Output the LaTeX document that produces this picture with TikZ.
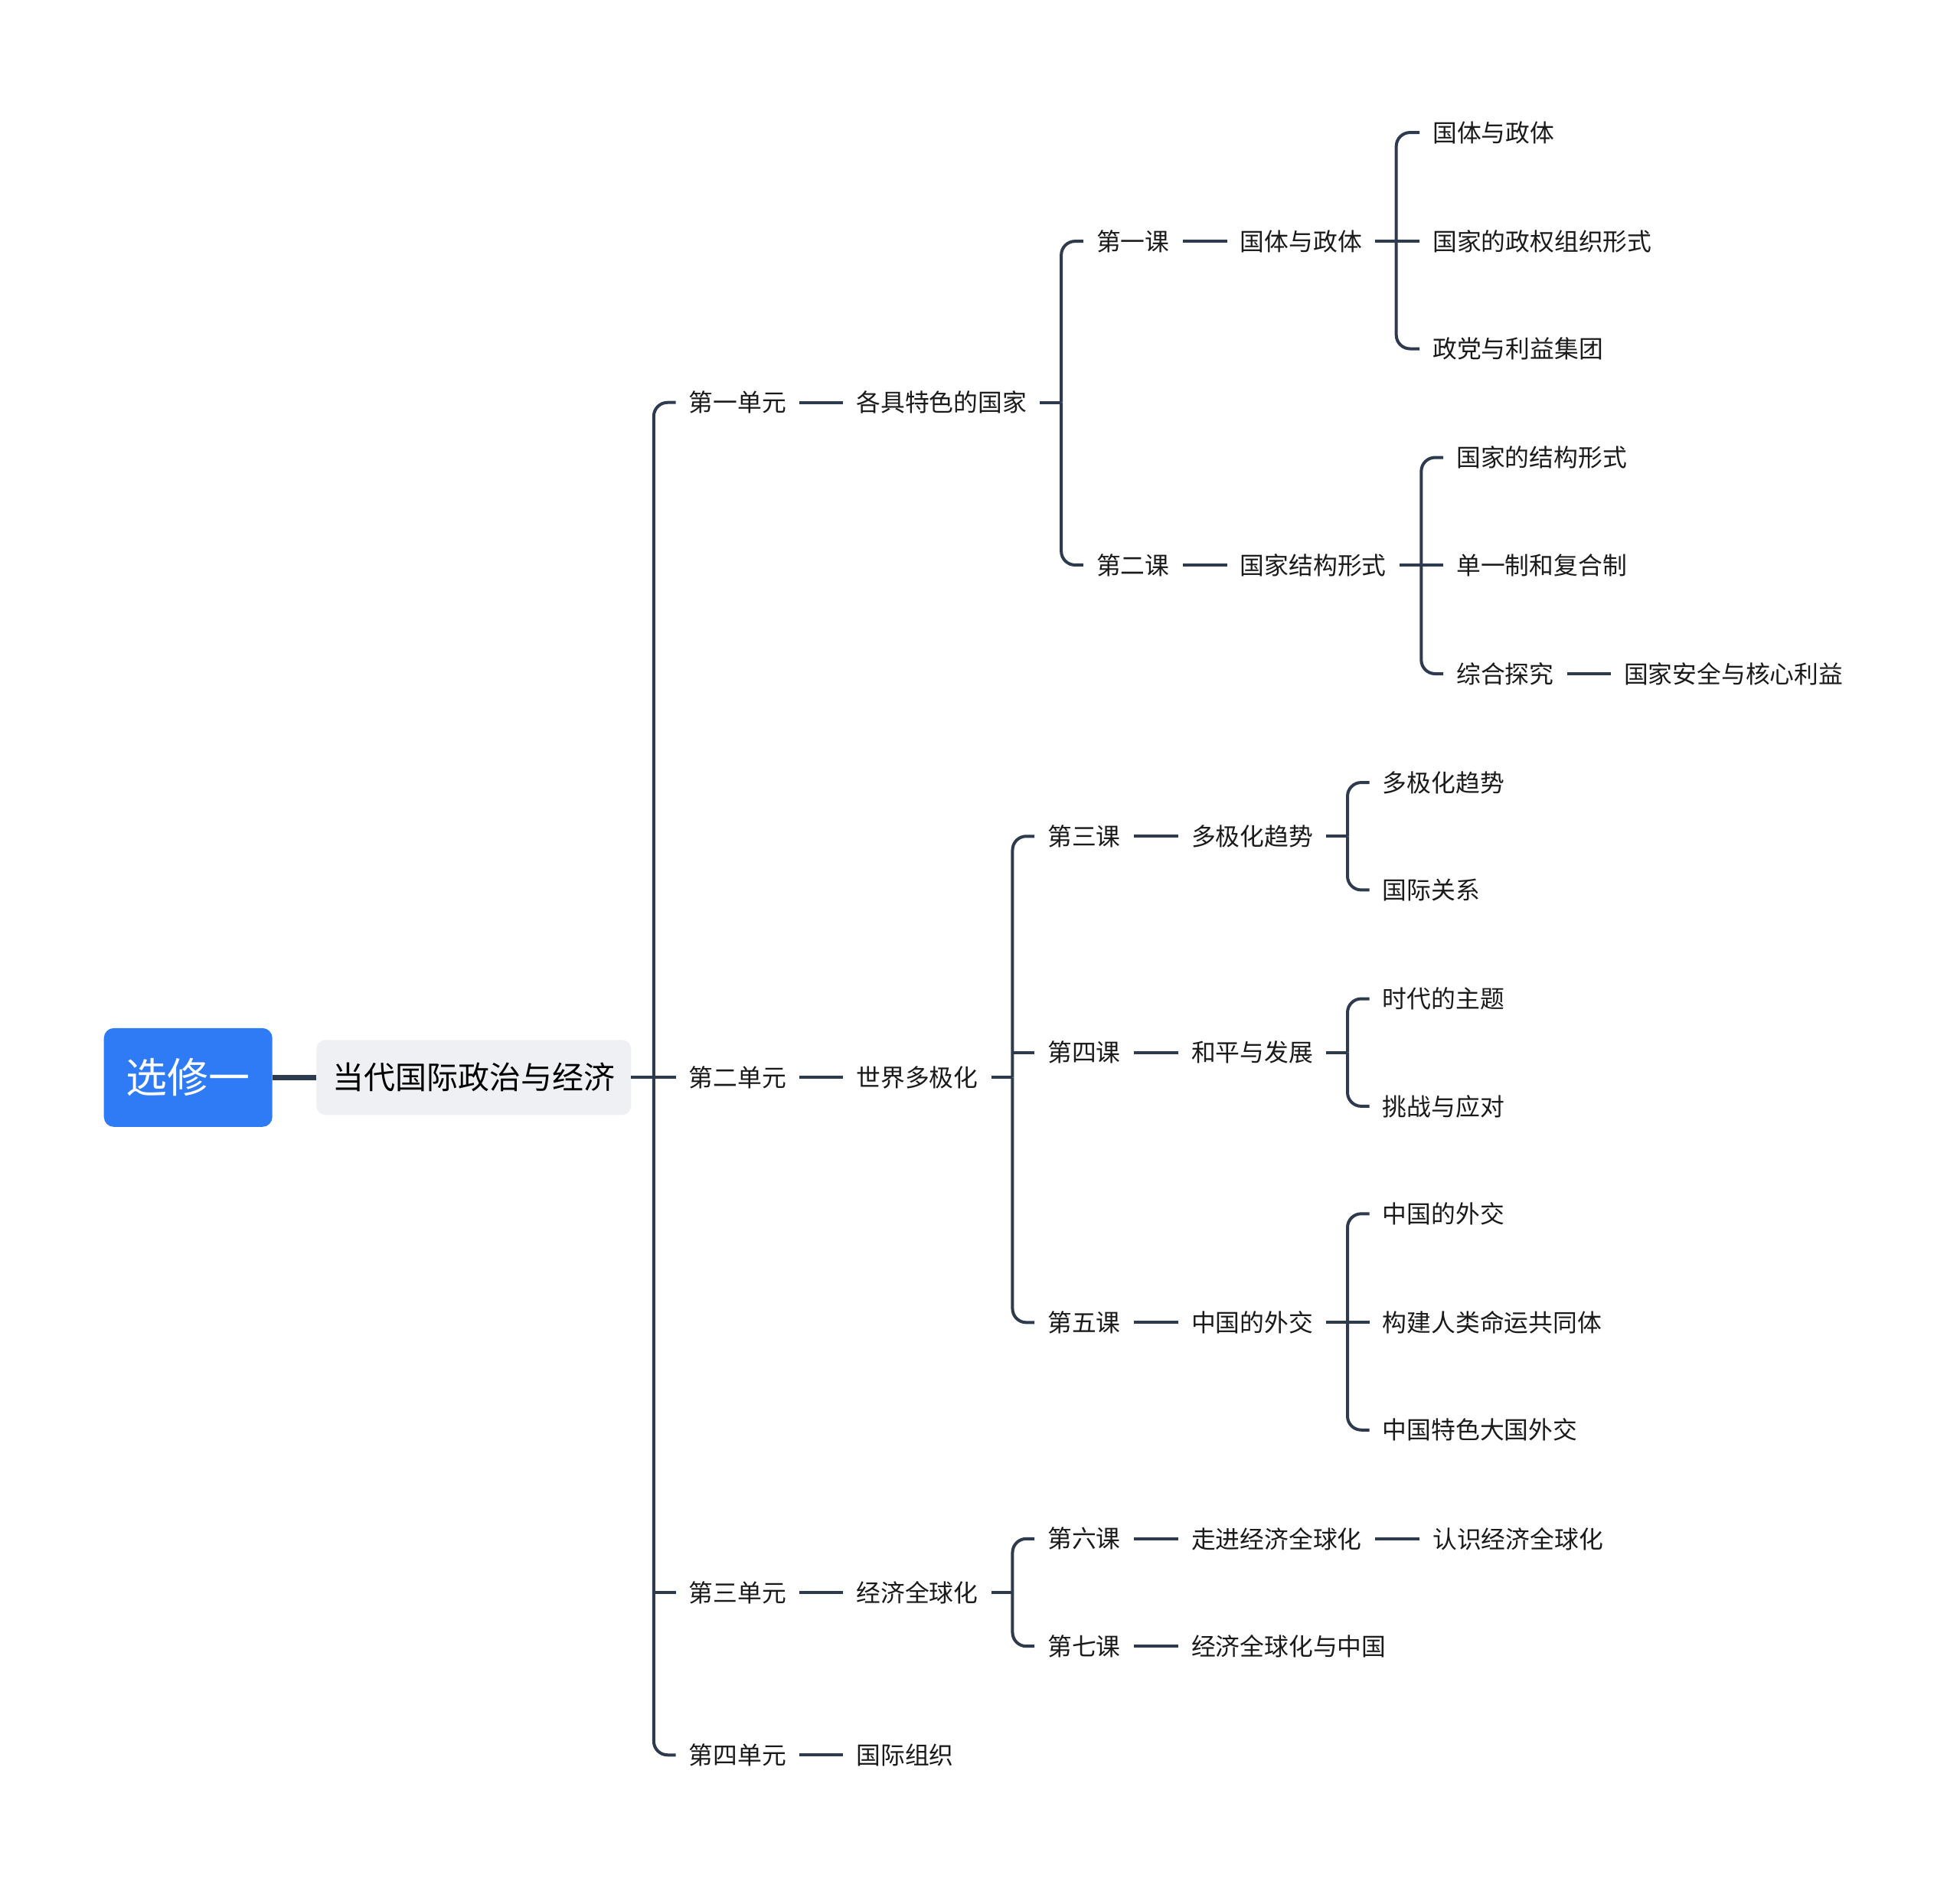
\documentclass[tikz,border=0pt]{standalone}
\usepackage{fontspec}
\setmainfont{Noto Sans CJK SC}
\definecolor{lineC}{HTML}{2E3A4D}
\definecolor{rootC}{HTML}{2F7BF6}
\definecolor{boxC}{HTML}{EEF0F3}
\definecolor{textC}{HTML}{1A1A1A}
\begin{document}
\begin{tikzpicture}[x=1.6327pt,y=-1.6327pt,
  t/.style={anchor=west,xshift=-17pt,inner xsep=17pt,inner ysep=0pt,text=textC,font=\fontsize{31.8}{34}\selectfont},
  con/.style={draw=lineC,line width=4pt},
  spine/.style={draw=lineC,line width=4pt,rounded corners=18pt},
  rootbox/.style={fill=rootC,rounded corners=13pt,text=white,minimum width=220pt,minimum height=129pt,font=\fontsize{54}{58}\selectfont},
  mainbox/.style={fill=boxC,rounded corners=12pt,text=black,inner xsep=21pt,minimum height=98pt,font=\fontsize{41}{44}\selectfont}]
\useasboundingbox (0,0) rectangle (1568,1510);
% root and main
\node[rootbox] (root) at (150.5,862) {选修一};
\node[mainbox] (main) at (379,862) {当代国际政治与经济};
\draw[draw=lineC,line width=6.5pt] (root.east) -- (main.west);
% units
\node[t] (u1) at (551,322) {第一单元};
\node[t] (u2) at (551,862) {第二单元};
\node[t] (u3) at (551,1274) {第三单元};
\node[t] (u4) at (551,1404) {第四单元};
\coordinate (s0) at (523,862);
\draw[con] (main.east) -- (s0);
\draw[spine] (u1.west) -| (s0);
\draw[spine] (u4.west) -| (s0);
\draw[con] (u2.west) -- (s0);
\draw[con] (u3.west) -- (u3.west -| s0);
% unit topics
\node[t] (t1) at (685,322) {各具特色的国家};
\node[t] (t2) at (685,862) {世界多极化};
\node[t] (t3) at (685,1274) {经济全球化};
\node[t] (t4) at (685,1404) {国际组织};
\draw[con] (u1.east) -- (t1.west);
\draw[con] (u2.east) -- (t2.west);
\draw[con] (u3.east) -- (t3.west);
\draw[con] (u4.east) -- (t4.west);
% lessons
\node[t] (l1) at (877,193) {第一课};
\node[t] (l2) at (877,452) {第二课};
\node[t] (l3) at (838,669) {第三课};
\node[t] (l4) at (838,842) {第四课};
\node[t] (l5) at (838,1058) {第五课};
\node[t] (l6) at (838,1231) {第六课};
\node[t] (l7) at (838,1317) {第七课};
\coordinate (s1) at (849,322);
\draw[con] (t1.east) -- (s1);
\draw[spine] (l1.west) -| (s1);
\draw[spine] (l2.west) -| (s1);
\coordinate (s2) at (810,862);
\draw[con] (t2.east) -- (s2);
\draw[spine] (l3.west) -| (s2);
\draw[spine] (l5.west) -| (s2);
\draw[con] (l4.west) -- (l4.west -| s2);
\coordinate (s3) at (810,1274);
\draw[con] (t3.east) -- (s3);
\draw[spine] (l6.west) -| (s3);
\draw[spine] (l7.west) -| (s3);
% lesson topics
\node[t] (k1) at (992,193) {国体与政体};
\node[t] (k2) at (992,452) {国家结构形式};
\node[t] (k3) at (953,669) {多极化趋势};
\node[t] (k4) at (953,842) {和平与发展};
\node[t] (k5) at (953,1058) {中国的外交};
\node[t] (k6) at (953,1231) {走进经济全球化};
\node[t] (k7) at (953,1317) {经济全球化与中国};
\draw[con] (l1.east) -- (k1.west);
\draw[con] (l2.east) -- (k2.west);
\draw[con] (l3.east) -- (k3.west);
\draw[con] (l4.east) -- (k4.west);
\draw[con] (l5.east) -- (k5.west);
\draw[con] (l6.east) -- (k6.west);
\draw[con] (l7.east) -- (k7.west);
% leaves of k1
\node[t] (a1) at (1146,106) {国体与政体};
\node[t] (a2) at (1146,193) {国家的政权组织形式};
\node[t] (a3) at (1146,279) {政党与利益集团};
\coordinate (sk1) at (1117,193);
\draw[con] (k1.east) -- (sk1);
\draw[spine] (a1.west) -| (sk1);
\draw[spine] (a3.west) -| (sk1);
\draw[con] (a2.west) -- (sk1);
% leaves of k2
\node[t] (b1) at (1165,366) {国家的结构形式};
\node[t] (b2) at (1165,452) {单一制和复合制};
\node[t] (b3) at (1165,539) {综合探究};
\node[t] (b4) at (1299,539) {国家安全与核心利益};
\coordinate (sk2) at (1137,452);
\draw[con] (k2.east) -- (sk2);
\draw[spine] (b1.west) -| (sk2);
\draw[spine] (b3.west) -| (sk2);
\draw[con] (b2.west) -- (sk2);
\draw[con] (b3.east) -- (b4.west);
% leaves of k3
\node[t] (c1) at (1106,626) {多极化趋势};
\node[t] (c2) at (1106,712) {国际关系};
\coordinate (sk3) at (1078,669);
\draw[con] (k3.east) -- (sk3);
\draw[spine] (c1.west) -| (sk3);
\draw[spine] (c2.west) -| (sk3);
% leaves of k4
\node[t] (d1) at (1106,799) {时代的主题};
\node[t] (d2) at (1106,885) {挑战与应对};
\coordinate (sk4) at (1078,842);
\draw[con] (k4.east) -- (sk4);
\draw[spine] (d1.west) -| (sk4);
\draw[spine] (d2.west) -| (sk4);
% leaves of k5
\node[t] (e1) at (1106,971) {中国的外交};
\node[t] (e2) at (1106,1058) {构建人类命运共同体};
\node[t] (e3) at (1106,1144) {中国特色大国外交};
\coordinate (sk5) at (1078,1058);
\draw[con] (k5.east) -- (sk5);
\draw[spine] (e1.west) -| (sk5);
\draw[spine] (e3.west) -| (sk5);
\draw[con] (e2.west) -- (sk5);
% leaf of k6
\node[t] (f1) at (1146,1231) {认识经济全球化};
\draw[con] (k6.east) -- (f1.west);
\end{tikzpicture}
\end{document}
